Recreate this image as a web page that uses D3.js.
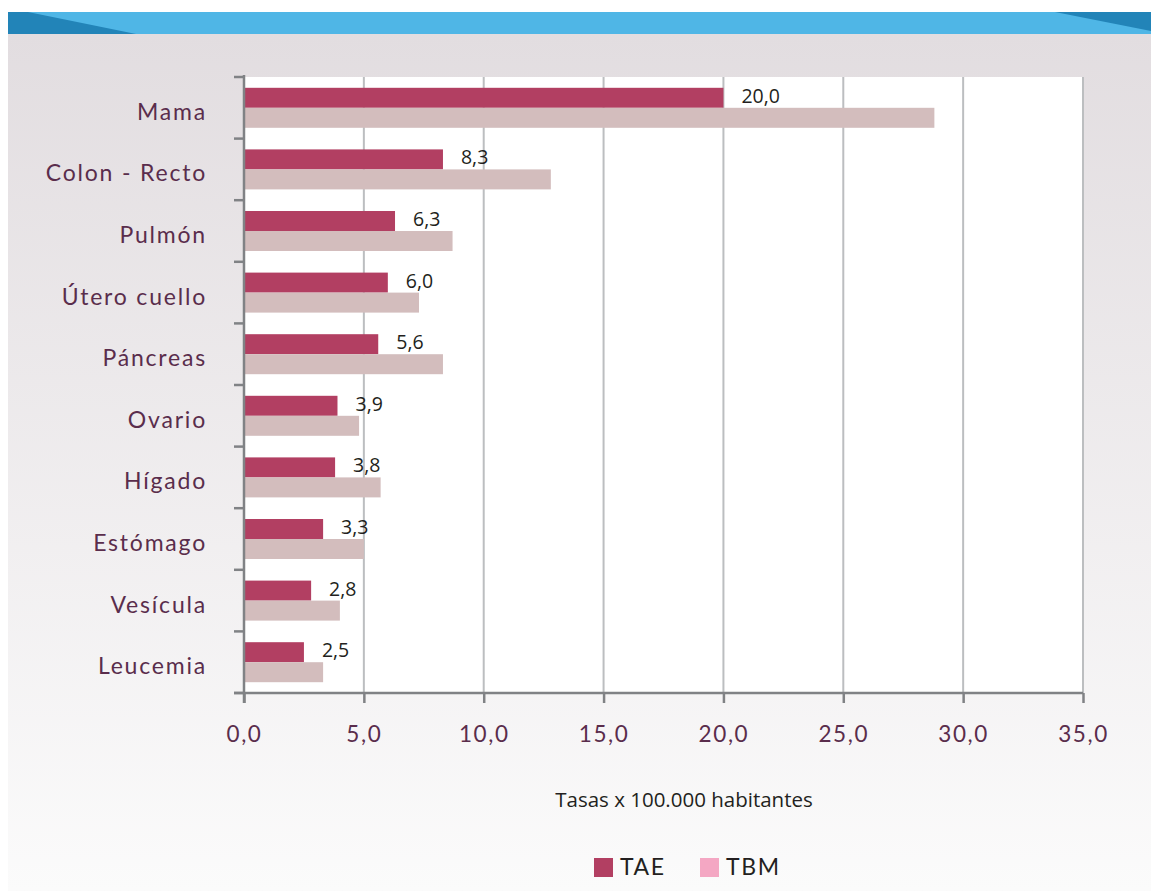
<!DOCTYPE html>
<html>
<head>
<meta charset="utf-8">
<script src="https://cdn.jsdelivr.net/npm/d3@7"></script>
<style>
	body { margin: 0; background: #ffffff; }
	svg { display: block; }
</style>
</head>
<body>
<svg id="chart" width="1151" height="891"></svg>
<script>
const categories = ["Mama", "Colon - Recto", "Pulmón", "Útero cuello", "Páncreas", "Ovario", "Hígado", "Estómago", "Vesícula", "Leucemia"];
const taeValues = [20.0, 8.3, 6.3, 6.0, 5.6, 3.9, 3.8, 3.3, 2.8, 2.5];
const tbmValues = [28.8, 12.8, 8.7, 7.3, 8.3, 4.8, 5.7, 5.0, 4.0, 3.3];
const xTicks = [0, 5, 10, 15, 20, 25, 30, 35];
const seriesNames = ["TAE", "TBM"];

const WIDTH = 1151;
const HEIGHT = 891;
const margin = { top: 77, right: 68, bottom: 198, left: 244 };
const plotW = WIDTH - margin.left - margin.right;
const plotH = HEIGHT - margin.top - margin.bottom;

const TAE_COLOR = "#b23f62";
const TBM_COLOR = "#d3bdbd";
const TBM_LEGEND = "#f4a7c3";
const GRID_COLOR = "#bcbec0";
const AXIS_COLOR = "#808285";
const LABEL_COLOR = "#5a2d4c";
const SANS_WIDE = "Lato, 'Noto Sans', sans-serif";
const SANS_TEXT = "'Open Sans', 'Liberation Sans', sans-serif";

const svg = d3.select("#chart");

// background panel with soft gradient
const defs = svg.append("defs");
const grad = defs.append("linearGradient")
	.attr("id", "panel-bg")
	.attr("x1", 0).attr("y1", 0).attr("x2", 0).attr("y2", 1);
grad.append("stop").attr("offset", "0%").attr("stop-color", "#e2dde0");
grad.append("stop").attr("offset", "100%").attr("stop-color", "#fbfbfb");

svg.append("rect")
	.attr("x", 8).attr("y", 34)
	.attr("width", WIDTH - 8).attr("height", HEIGHT - 34)
	.attr("fill", "url(#panel-bg)");

// blue header band
svg.append("rect")
	.attr("x", 8).attr("y", 12)
	.attr("width", WIDTH - 8).attr("height", 22)
	.attr("fill", "#4fb6e6");
svg.append("path")
	.attr("d", "M8,12 L28,12 L136,34 L8,34 Z")
	.attr("fill", "#2284b8");
svg.append("path")
	.attr("d", "M1055,12 L1151,12 L1151,31 Z")
	.attr("fill", "#2284b8");

const x = d3.scaleLinear()
	.domain([0, 35])
	.range([0, plotW]);

const y = d3.scaleBand()
	.domain(categories)
	.range([0, plotH])
	.paddingInner(0)
	.paddingOuter(0);

const barH = 20;
const barPad = (y.bandwidth() - 2 * barH) / 2;

const g = svg.append("g")
	.attr("transform", `translate(${margin.left},${margin.top})`);

// plot area
g.append("rect")
	.attr("x", 0).attr("y", 0)
	.attr("width", plotW).attr("height", plotH)
	.attr("fill", "#ffffff");

// vertical gridlines
g.selectAll("line.grid")
	.data(xTicks.slice(1))
	.join("line")
	.attr("class", "grid")
	.attr("x1", d => x(d)).attr("x2", d => x(d))
	.attr("y1", 0).attr("y2", plotH)
	.attr("stroke", GRID_COLOR)
	.attr("stroke-width", 2);

// bars
const rows = categories.map((c, i) => ({ cat: c, tae: taeValues[i], tbm: tbmValues[i] }));

g.selectAll("rect.tae")
	.data(rows)
	.join("rect")
	.attr("class", "tae")
	.attr("x", 0)
	.attr("y", d => y(d.cat) + barPad)
	.attr("width", d => x(d.tae))
	.attr("height", barH)
	.attr("fill", TAE_COLOR);

g.selectAll("rect.tbm")
	.data(rows)
	.join("rect")
	.attr("class", "tbm")
	.attr("x", 0)
	.attr("y", d => y(d.cat) + barPad + barH)
	.attr("width", d => x(d.tbm))
	.attr("height", barH)
	.attr("fill", TBM_COLOR);

// value labels for TAE
const fmt = v => d3.format(".1f")(v).replace(".", ",");
g.selectAll("text.val")
	.data(rows)
	.join("text")
	.attr("class", "val")
	.attr("x", d => x(d.tae) + 18)
	.attr("y", d => y(d.cat) + barPad + 15)
	.attr("font-family", SANS_TEXT)
	.attr("font-size", 19.5)
	.attr("fill", "#231f20")
	.text(d => fmt(d.tae));

// y axis
g.append("line")
	.attr("x1", 0).attr("x2", 0)
	.attr("y1", -2).attr("y2", plotH + 10)
	.attr("stroke", AXIS_COLOR).attr("stroke-width", 2.5);
g.selectAll("line.ytick")
	.data(d3.range(categories.length + 1))
	.join("line")
	.attr("class", "ytick")
	.attr("x1", -10).attr("x2", 0)
	.attr("y1", i => i * y.step()).attr("y2", i => i * y.step())
	.attr("stroke", AXIS_COLOR).attr("stroke-width", 2.5);

g.selectAll("text.cat")
	.data(categories)
	.join("text")
	.attr("class", "cat")
	.attr("x", -37)
	.attr("y", d => y(d) + y.bandwidth() / 2 + 12)
	.attr("text-anchor", "end")
	.attr("font-family", SANS_WIDE)
	.attr("font-size", 23)
	.attr("letter-spacing", 1.8)
	.attr("fill", LABEL_COLOR)
	.text(d => d);

// x axis
const xAxis = g.append("g")
	.attr("transform", `translate(0,${plotH})`)
	.call(d3.axisBottom(x).tickValues(xTicks).tickSize(10).tickFormat(fmt));
xAxis.select(".domain")
	.attr("d", `M-10,0H${plotW}`)
	.attr("stroke", AXIS_COLOR).attr("stroke-width", 2.5);
xAxis.selectAll(".tick line")
	.attr("stroke", AXIS_COLOR).attr("stroke-width", 2.5);
xAxis.selectAll(".tick text")
	.attr("y", 49)
	.attr("dy", null)
	.attr("font-family", SANS_WIDE)
	.attr("font-size", 22.5)
	.attr("letter-spacing", 1.6)
	.attr("fill", LABEL_COLOR);

// axis title
svg.append("text")
	.attr("x", 684)
	.attr("y", 807)
	.attr("text-anchor", "middle")
	.attr("font-family", SANS_TEXT)
	.attr("font-size", 20.5)
	.attr("fill", "#231f20")
	.text("Tasas x 100.000 habitantes");

// legend
const legend = svg.append("g")
	.attr("transform", "translate(594,858)");
const legendColors = [TAE_COLOR, TBM_LEGEND];
const item = legend.selectAll("g")
	.data(seriesNames)
	.join("g")
	.attr("transform", (d, i) => `translate(${i * 106},0)`);
item.append("rect")
	.attr("width", 19).attr("height", 19)
	.attr("fill", (d, i) => legendColors[i]);
item.append("text")
	.attr("x", 26)
	.attr("y", 17)
	.attr("font-family", SANS_WIDE)
	.attr("font-size", 23)
	.attr("letter-spacing", 1.6)
	.attr("fill", "#231f20")
	.text(d => d);
</script>
</body>
</html>
